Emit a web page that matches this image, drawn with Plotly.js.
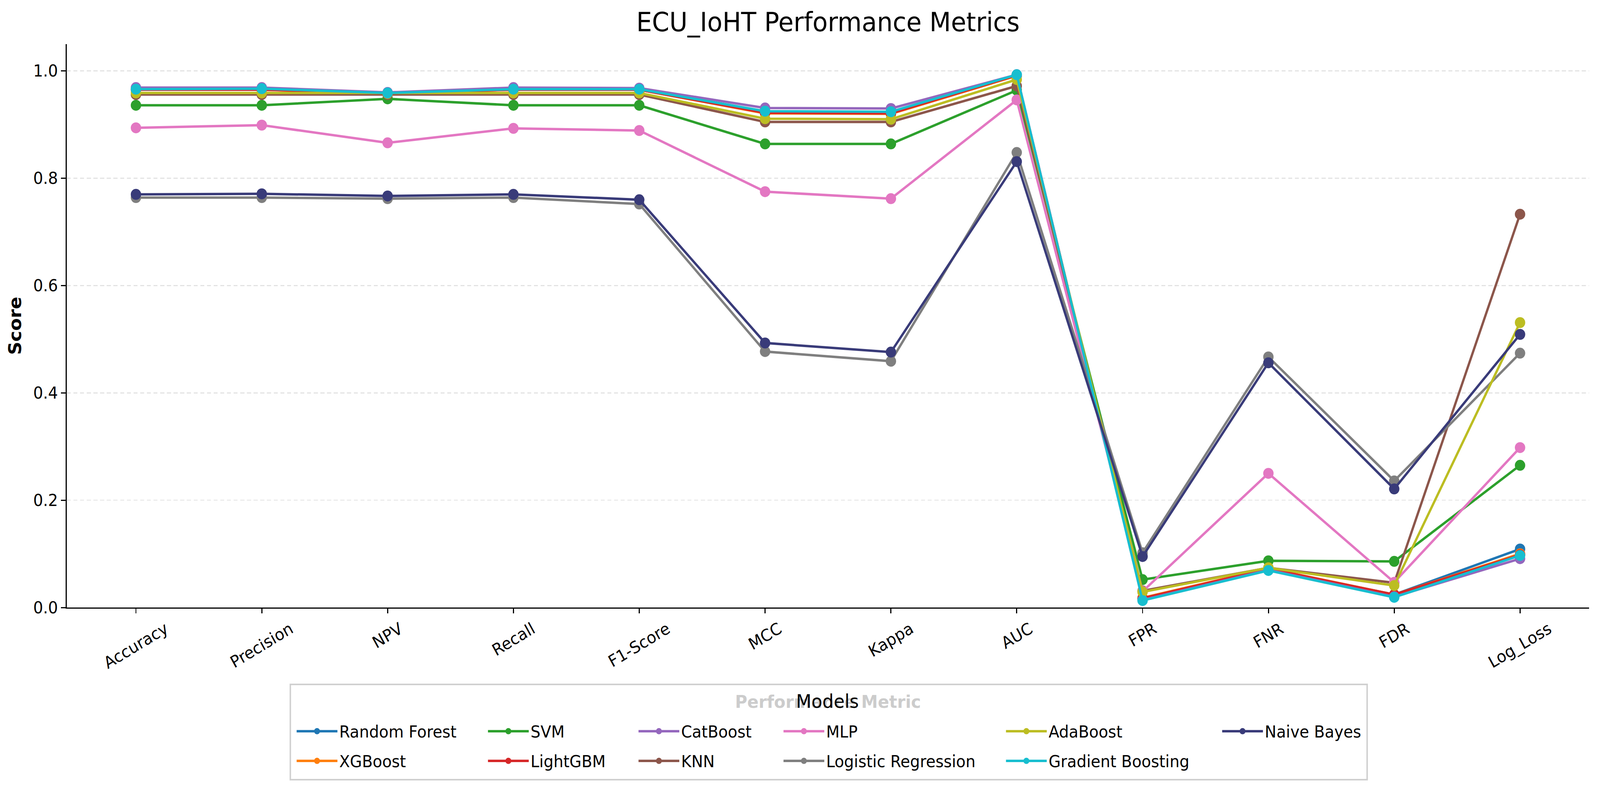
<!DOCTYPE html>
<html>
<head>
<meta charset="utf-8">
<script src="https://cdn.plot.ly/plotly-3.0.1.min.js"></script>
<style>html,body{margin:0;padding:0;background:#fff;overflow:hidden;}#chart{width:4315px;height:2026px;transform-origin:0 0;}</style>
</head>
<body>
<div id="chart"></div>
<script>
// ---- data ----
const metrics = ['Accuracy','Precision','NPV','Recall','F1-Score','MCC','Kappa','AUC','FPR','FNR','FDR','Log_Loss'];
const models = ['Random Forest','XGBoost','SVM','LightGBM','CatBoost','KNN','MLP','Logistic Regression','AdaBoost','Gradient Boosting','Naive Bayes'];
const colors = ['#1f77b4','#ff7f0e','#2ca02c','#d62728','#9467bd','#8c564b','#e377c2','#7f7f7f','#bcbd22','#17becf','#393b79'];

const randomForest       = [0.967,0.967,0.959,0.967,0.966,0.922,0.921,0.992,0.016,0.071,0.024,0.109];
const xgboost            = [0.965,0.965,0.958,0.965,0.965,0.921,0.920,0.991,0.018,0.073,0.024,0.100];
const svm                = [0.936,0.936,0.948,0.936,0.936,0.864,0.864,0.964,0.052,0.087,0.086,0.265];
const lightgbm           = [0.965,0.965,0.959,0.965,0.965,0.922,0.921,0.992,0.017,0.072,0.024,0.098];
const catboost           = [0.969,0.969,0.960,0.969,0.968,0.931,0.930,0.993,0.014,0.070,0.020,0.091];
const knn                = [0.956,0.956,0.956,0.956,0.956,0.905,0.905,0.972,0.031,0.074,0.046,0.733];
const mlp                = [0.894,0.899,0.866,0.893,0.889,0.775,0.762,0.946,0.030,0.250,0.047,0.298];
const logisticRegression = [0.764,0.764,0.762,0.764,0.752,0.477,0.459,0.848,0.102,0.467,0.236,0.474];
const adaboost           = [0.959,0.959,0.958,0.959,0.959,0.911,0.910,0.984,0.029,0.074,0.041,0.531];
const gradientBoosting   = [0.966,0.967,0.959,0.966,0.966,0.925,0.924,0.993,0.013,0.069,0.019,0.097];
const naiveBayes         = [0.770,0.771,0.767,0.770,0.760,0.493,0.476,0.831,0.095,0.456,0.221,0.509];

const seriesValues = [randomForest,xgboost,svm,lightgbm,catboost,knn,mlp,logisticRegression,adaboost,gradientBoosting,naiveBayes];
const yTickVals = [0,0.2,0.4,0.6,0.8,1.0];
const yTickText = ['0.0','0.2','0.4','0.6','0.8','1.0'];

// ---- geometry helpers (figure pixels -> paper) ----
const W = 4315, H = 2026;
const M = {l:180, r:29, t:113, b:470};
const PW = W - M.l - M.r, PH = H - M.t - M.b;
const px2x = p => (p - M.l) / PW;
const px2y = p => (H - M.b - p) / PH;

const FONT = 'DejaVu Sans';

// legend slots (matplotlib-style 6 columns, column-major)
const colX = [840, 1356, 1762, 2153, 2753, 3336];
const rowY = [1873, 1949];
const ITEMW = 110;

const traces = models.map((name, i) => ({
  type: 'scatter', mode: 'lines+markers', name: name,
  x: metrics, y: seriesValues[i],
  line: {color: colors[i], width: 6.25},
  marker: {color: colors[i], size: 28},
  legend: i === 0 ? 'legend' : 'legend' + (i + 1),
  showlegend: true
}));

const layout = {
  width: W, height: H,
  paper_bgcolor: '#ffffff', plot_bgcolor: '#ffffff',
  margin: M,
  font: {family: FONT, color: '#000000', size: 42},
  title: {text: 'ECU_IoHT Performance Metrics', font: {family: FONT, size: 67, color: '#000000'},
          x: 0.5, xref: 'paper', xanchor: 'center', y: 1 - 57 / H, yref: 'container', yanchor: 'middle'},
  xaxis: {
    type: 'category', categoryorder: 'array', categoryarray: metrics,
    range: [-0.55, metrics.length - 1 + 0.55],
    showline: true, linecolor: '#000000', linewidth: 3.3,
    ticks: 'outside', ticklen: 12, tickwidth: 3, tickcolor: '#000000',
    showticklabels: false, showgrid: false, zeroline: false,
    title: {text: 'Performance Metric', standoff: 212,
            font: {family: FONT, size: 45, color: '#cccccc', weight: 'bold'}}
  },
  yaxis: {
    range: [0, 1.05], tickvals: yTickVals, ticktext: yTickText,
    showline: true, linecolor: '#000000', linewidth: 3.3,
    ticks: 'outside', ticklen: 12, tickwidth: 3, tickcolor: '#000000',
    tickfont: {family: FONT, size: 42, color: '#000000'},
    showgrid: true, gridcolor: '#e3e3e3', gridwidth: 2.6, griddash: '11px,7px',
    zeroline: false,
    title: {text: 'Score', standoff: 18, font: {family: FONT, size: 47, color: '#000000', weight: 'bold'}}
  },
  shapes: [{
    type: 'rect', xref: 'paper', yref: 'paper', layer: 'above',
    x0: px2x(783), x1: px2x(3687), y0: px2y(1997), y1: px2y(1753),
    line: {color: '#d0d0d0', width: 4}, fillcolor: 'rgba(255,255,255,0.8)'
  }],
  annotations: [
    {text: 'Models', xref: 'paper', yref: 'paper', x: px2x(2231), y: px2y(1796),
     xanchor: 'center', yanchor: 'middle', showarrow: false,
     font: {family: FONT, size: 48, color: '#000000'}}
  ].concat(metrics.map(m => ({
    text: m, x: m, xref: 'x', y: px2y(1582), yref: 'paper',
    xanchor: 'center', yanchor: 'top', textangle: -30, showarrow: false,
    font: {family: FONT, size: 42, color: '#000000'}
  })))
};

models.forEach((name, i) => {
  const col = Math.floor(i / 2), row = i % 2;
  const key = i === 0 ? 'legend' : 'legend' + (i + 1);
  layout[key] = {
    x: px2x(colX[col] + 10 - ITEMW / 2), xanchor: 'left', xref: 'paper',
    y: px2y(rowY[row]), yanchor: 'middle', yref: 'paper',
    bgcolor: 'rgba(0,0,0,0)', borderwidth: 0,
    font: {family: FONT, size: 42, color: '#000000'},
    itemwidth: ITEMW
  };
});

// the viewport may be narrower than the reference canvas: squeeze horizontally to fit
const sx = Math.min(1, (window.innerWidth || W) / W);
document.getElementById('chart').style.transform = 'scaleX(' + sx + ')';

Plotly.newPlot('chart', traces, layout, {displayModeBar: false, staticPlot: true});
</script>
</body>
</html>
